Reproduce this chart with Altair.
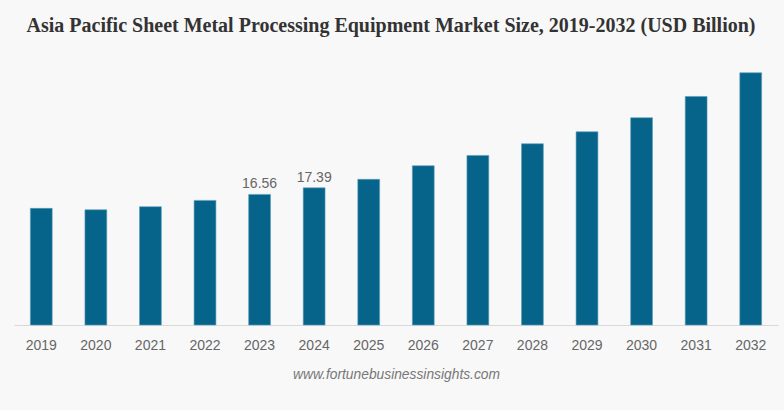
import altair as alt
import pandas as pd

# Asia Pacific sheet metal processing equipment market, USD billion
years = ["2019", "2020", "2021", "2022", "2023", "2024", "2025",
         "2026", "2027", "2028", "2029", "2030", "2031", "2032"]
values = [14.79, 14.61, 15.00, 15.80, 16.56, 17.39, 18.47,
          20.19, 21.50, 22.98, 24.50, 26.28, 28.98, 31.98]
labelled_years = ["2023", "2024"]

df = pd.DataFrame({"year": years, "value": values})
df["label"] = [f"{v:.2f}" if y in labelled_years else "" for y, v in zip(years, values)]

x_enc = alt.X(
    "year:N",
    sort=years,
    scale=alt.Scale(paddingInner=0.6, paddingOuter=0.3),
    axis=alt.Axis(
        title="www.fortunebusinessinsights.com",
        titleFont="Liberation Sans",
        titleFontSize=13.8,
        titleFontStyle="italic",
        titleFontWeight="normal",
        titleColor="#777777",
        titlePadding=15,
        labelAngle=0,
        labelFont="Liberation Sans",
        labelFontSize=14,
        labelColor="#666666",
        labelPadding=13,
        ticks=False,
        domainColor="#d9d9d9",
        domainWidth=1,
        grid=False,
    ),
)
y_enc = alt.Y(
    "value:Q",
    scale=alt.Scale(domain=[0, 33.6], nice=False),
    axis=None,
)

bars = alt.Chart(df).mark_bar(
    color="#06648b", stroke="#5a9cbb", strokeWidth=0.6
).encode(x=x_enc, y=y_enc)

labels = alt.Chart(df).mark_text(
    baseline="bottom", dy=-3, font="Liberation Sans", fontSize=14, color="#666666"
).encode(x=alt.X("year:N", sort=years), y="value:Q", text="label:N")

chart = (
    alt.layer(bars, labels)
    .properties(
        width=764,
        height=265,
        autosize=alt.AutoSizeParams(type="none"),
        padding={"left": 14, "top": 60, "right": 6, "bottom": 85},
        background="#f8f8f8",
        title=alt.TitleParams(
            "Asia Pacific Sheet Metal Processing Equipment Market Size, 2019-2032 (USD Billion)",
            font="Liberation Serif",
            fontSize=20,
            fontWeight="bold",
            color="#333333",
            anchor="middle",
            offset=20,
            dx=-5,
        ),
    )
    .configure_view(stroke=None)
)

chart.save("out.html", embed_options={"renderer": "svg", "actions": False})
